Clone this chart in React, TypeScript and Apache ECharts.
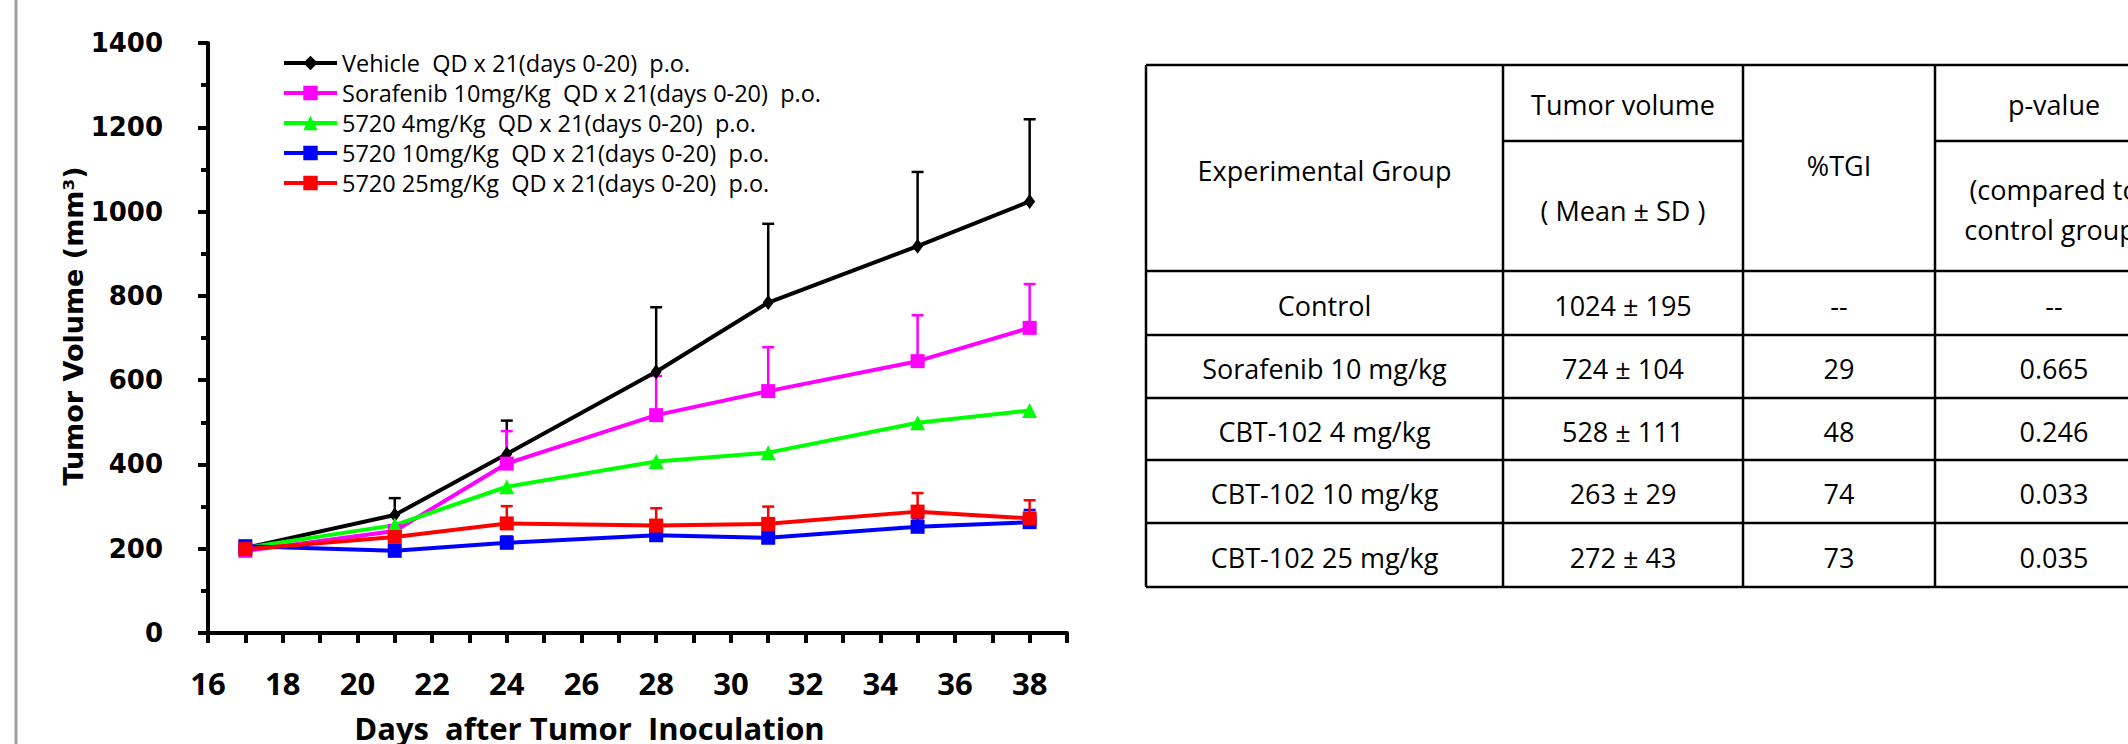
import React, { useEffect, useRef } from "react";
import * as echarts from "echarts";

// ---------- chart data ----------
const days = [17, 21, 24, 28, 31, 35, 38];
const seriesNames = [
  "Vehicle  QD x 21(days 0-20)  p.o.",
  "Sorafenib 10mg/Kg  QD x 21(days 0-20)  p.o.",
  "5720 4mg/Kg  QD x 21(days 0-20)  p.o.",
  "5720 10mg/Kg  QD x 21(days 0-20)  p.o.",
  "5720 25mg/Kg  QD x 21(days 0-20)  p.o.",
];
const vehicleMean = [202, 280, 425, 620, 784, 918, 1024];
const vehicleSD = [0, 40, 79, 153, 187, 176, 195];
const sorafenibMean = [195, 242, 402, 517, 574, 645, 724];
const sorafenibSD = [0, 10, 77, 93, 104, 109, 104];
const cbt4Mean = [202, 256, 347, 407, 428, 499, 528];
const cbt10Mean = [206, 195, 214, 232, 226, 252, 263];
const cbt10SD = [8, 10, 15, 15, 15, 20, 29];
const cbt25Mean = [199, 228, 260, 255, 259, 288, 272];
const cbt25SD = [0, 10, 41, 41, 41, 44, 43];

// ---------- table data ----------
const tableHeaderGroup = "Experimental Group";
const tableHeaderVolume = ["Tumor volume", "( Mean ± SD )"];
const tableHeaderTGI = "%TGI";
const tableHeaderP = ["p-value", "(compared to", "control group)"];
const tableGroups = ["Control", "Sorafenib 10 mg/kg", "CBT-102 4 mg/kg", "CBT-102 10 mg/kg", "CBT-102 25 mg/kg"];
const tableVolumes = ["1024 ± 195", "724 ± 104", "528 ± 111", "263 ± 29", "272 ± 43"];
const tableTGI = ["--", "29", "48", "74", "73"];
const tablePValues = ["--", "0.665", "0.246", "0.033", "0.035"];

// ---------- styles ----------
const colors = ["#000000", "#FF00FF", "#00FF00", "#0000FF", "#FF0000"];
const symbols = ["diamond", "rect", "triangle", "rect", "rect"];
const symbolSizes: any[] = [[11, 15], 14, 15, 14, 14];

export default function App() {
  const ref = useRef<HTMLDivElement>(null);
  useEffect(() => {
    document.body.style.margin = "0";
    const chart = echarts.init(ref.current!, undefined, { renderer: "svg" });

    const means = [vehicleMean, sorafenibMean, cbt4Mean, cbt10Mean, cbt25Mean];
    const sds: (number[] | null)[] = [vehicleSD, sorafenibSD, null, cbt10SD, cbt25SD];

    const lineSeries = means.map((m, i) => ({
      name: seriesNames[i],
      type: "line",
      data: days.map((d, j) => [d, m[j]]),
      symbol: symbols[i],
      symbolSize: symbolSizes[i],
      showSymbol: true,
      lineStyle: { color: colors[i], width: 4 },
      itemStyle: { color: colors[i] },
      z: 3,
    }));

    const errorSeries: any[] = [];
    sds.forEach((sd, i) => {
      if (!sd) return;
      errorSeries.push({
        name: seriesNames[i] + " SD",
        type: "custom",
        z: 2,
        data: days.map((d, j) => [d, means[i][j], sd[j]]),
        encode: { x: 0, y: 1 },
        renderItem: (params: any, api: any) => {
          const x = api.value(0);
          const m = api.value(1);
          const s = api.value(2);
          if (!s) return { type: "group", children: [] };
          const p0 = api.coord([x, m]);
          const p1 = api.coord([x, m + s]);
          const st = { stroke: colors[i], lineWidth: 2.5 };
          return {
            type: "group",
            children: [
              { type: "line", shape: { x1: p0[0], y1: p0[1], x2: p1[0], y2: p1[1] }, style: st },
              { type: "line", shape: { x1: p1[0] - 6, y1: p1[1], x2: p1[0] + 6, y2: p1[1] }, style: st },
            ],
          };
        },
      });
    });

    // ---------- table graphics ----------
    const tL = 1146, c1 = 1503, c2 = 1743, c3 = 1935, tR = 2180;
    const rowY = [65, 271, 335, 398, 460, 523, 587];
    const subY = 141;
    const lw = 2.5;
    const g: any[] = [];
    const hline = (x1: number, x2: number, y: number) =>
      g.push({ type: "line", shape: { x1, y1: y, x2, y2: y }, style: { stroke: "#000", lineWidth: lw } });
    const vline = (x: number, y1: number, y2: number) =>
      g.push({ type: "line", shape: { x1: x, y1, x2: x, y2 }, style: { stroke: "#000", lineWidth: lw } });
    rowY.forEach((y) => hline(tL, tR, y));
    hline(c1, c2, subY);
    hline(c3, tR, subY);
    [tL, c1, c2, c3].forEach((x) => vline(x, rowY[0], rowY[rowY.length - 1]));

    const txt = (text: string, x: number, y: number) =>
      g.push({
        type: "text",
        x,
        y,
        style: {
          text,
          fontFamily: "'Open Sans', sans-serif",
          fontSize: 27,
          fill: "#000",
          align: "center",
          verticalAlign: "middle",
        },
      });
    const cx0 = (tL + c1) / 2, cx1 = (c1 + c2) / 2, cx2 = (c2 + c3) / 2, cx3 = 2054;
    txt(tableHeaderGroup, cx0, 170);
    txt(tableHeaderVolume[0], cx1, 104);
    txt(tableHeaderVolume[1], cx1, 210);
    txt(tableHeaderTGI, cx2, 165);
    txt(tableHeaderP[0], cx3, 104);
    txt(tableHeaderP[1], cx3, 189);
    txt(tableHeaderP[2], cx3, 229);
    tableGroups.forEach((grp, i) => {
      const y = (rowY[i + 1] + rowY[i + 2]) / 2 + 2;
      txt(grp, cx0, y);
      txt(tableVolumes[i], cx1, y);
      txt(tableTGI[i], cx2, y);
      txt(tablePValues[i], cx3, y);
    });
    // grey frame line at the far left
    g.push({ type: "line", shape: { x1: 16, y1: 0, x2: 16, y2: 744 }, style: { stroke: "#a0a0a0", lineWidth: 3 } });

    const axisLineStyle = { color: "#000", width: 4 };

    chart.setOption({
      animation: false,
      backgroundColor: "#fff",
      grid: { left: 208, right: 1061, top: 43, bottom: 111, containLabel: false, outerBoundsMode: "none" },
      legend: {
        data: seriesNames,
        orient: "vertical",
        left: 282,
        top: 48,
        padding: 0,
        itemWidth: 53,
        itemHeight: 18,
        itemGap: 0,
        lineStyle: { width: 4 },
        textStyle: { fontFamily: "'Open Sans', sans-serif", fontSize: 23.5, color: "#000", lineHeight: 30 },
      },
      xAxis: {
        type: "value",
        min: 16,
        max: 39,
        interval: 1,
        axisLine: { show: true, onZero: false, lineStyle: axisLineStyle },
        axisTick: { show: true, length: 10, lineStyle: axisLineStyle },
        splitLine: { show: false },
        axisLabel: {
          formatter: (v: number) => (v % 2 === 0 ? String(v) : ""),
          margin: 34,
          fontFamily: "'Open Sans', sans-serif",
          fontWeight: "bold",
          fontSize: 31,
          color: "#000",
        },
        name: "Days  after Tumor  Inoculation",
        nameLocation: "middle",
        nameGap: 79,
        nameTextStyle: {
          fontFamily: "'Open Sans', sans-serif",
          fontWeight: "bold",
          fontSize: 31,
          color: "#000",
          padding: [0, 96, 0, 0],
        },
      },
      yAxis: {
        type: "value",
        min: 0,
        max: 1400,
        interval: 200,
        axisLine: { show: true, lineStyle: axisLineStyle },
        axisTick: { show: true, length: 10, lineStyle: axisLineStyle },
        minorTick: { show: true, splitNumber: 2, length: 7, lineStyle: axisLineStyle },
        splitLine: { show: false },
        axisLabel: {
          formatter: (v: number) => String(v),
          margin: 45,
          fontFamily: "'DejaVu Sans', sans-serif",
          fontWeight: "bold",
          fontSize: 26,
          color: "#000",
        },
        name: "Tumor Volume (mm³)",
        nameLocation: "middle",
        nameGap: 101,
        nameTextStyle: {
          fontFamily: "'DejaVu Sans', sans-serif",
          fontWeight: "bold",
          fontSize: 27,
          color: "#000",
          padding: [0, 0, 0, 24],
        },
      },
      series: [...errorSeries, ...lineSeries],
      graphic: { elements: g },
    });
    return () => chart.dispose();
  }, []);
  return <div ref={ref} style={{ width: 2128, height: 744 }} />;
}
